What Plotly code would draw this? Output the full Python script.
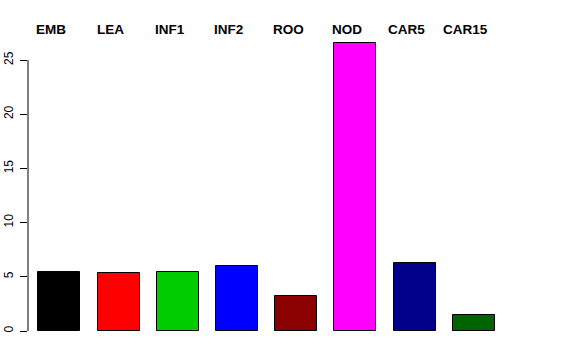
import plotly.graph_objects as go

categories = ["EMB", "LEA", "INF1", "INF2", "ROO", "NOD", "CAR5", "CAR15"]
values = [5.44, 5.32, 5.42, 6.03, 3.20, 26.6, 6.30, 1.48]
colors = ["#000000", "#FF0000", "#00CD00", "#0000FF", "#8B0000", "#FF00FF", "#00008B", "#006400"]
y_ticks = [0, 5, 10, 15, 20, 25]

xpos = list(range(len(categories)))

fig = go.Figure()
fig.add_trace(go.Bar(
    x=xpos, y=values, width=0.71,
    marker=dict(color=colors, line=dict(color="#000000", width=1)),
    showlegend=False, hoverinfo="skip",
))

for xi, name in zip(xpos, categories):
    fig.add_annotation(x=xi, y=1.0344, xref="x", yref="paper", text="<b>" + name + "</b>",
                       showarrow=False, yanchor="middle", xanchor="center", xshift=-8,
                       font=dict(family="Liberation Sans", size=13.5, color="#000000"))

fig.add_shape(type="line", xref="paper", yref="y", x0=0, x1=0, y0=min(y_ticks), y1=max(y_ticks),
              line=dict(color="#000000", width=1))

fig.update_layout(
    width=576, height=360,
    margin=dict(l=28, r=58, t=40, b=29, autoexpand=False),
    paper_bgcolor="white", plot_bgcolor="white",
    font=dict(family="Liberation Sans", size=12, color="#000000"),
    bargap=0,
    xaxis=dict(range=[-0.529, 7.746], showgrid=False, zeroline=False, showline=False,
               showticklabels=False, ticks="", automargin=False),
    yaxis=dict(range=[0, 26.85], showgrid=False, zeroline=False, showline=False,
               tickvals=y_ticks, ticktext=[str(t) for t in y_ticks],
               ticks="outside", ticklen=7, tickcolor="#000000", tickwidth=1,
               tickangle=-90, ticklabelstandoff=2, automargin=False,
               tickfont=dict(family="Liberation Sans", size=12, color="#000000")),
)

fig.write_html("out.html")
